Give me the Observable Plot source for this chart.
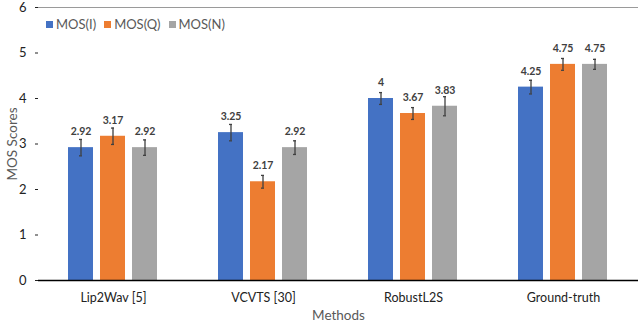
<!DOCTYPE html>
<html>
<head>
<meta charset="utf-8">
<script src="https://cdn.jsdelivr.net/npm/d3@7"></script>
<script src="https://cdn.jsdelivr.net/npm/@observablehq/plot@0.6"></script>
<style>
  html, body { margin: 0; padding: 0; background: #fff; }
  #wrap { position: relative; width: 640px; height: 323px; font-family: Lato, "Noto Sans", sans-serif; }
  #legend { position: absolute; left: 46px; top: 16px; display: flex; gap: 8px; font-size: 13px; color: #595959; }
  #legend span.item { display: flex; align-items: center; }
  #legend span.sw { display: inline-block; width: 7px; height: 7px; margin-right: 3px; }
</style>
</head>
<body>
<div id="wrap"><div id="legend"></div></div>
<script>
const methods = ["Lip2Wav [5]", "VCVTS [30]", "RobustL2S", "Ground-truth"];
const seriesNames = ["MOS(I)", "MOS(Q)", "MOS(N)"];
const seriesColors = ["#4472C4", "#ED7D31", "#A5A5A5"];
const mosI = [2.92, 3.25, 4, 4.25];
const mosQ = [3.17, 2.17, 3.67, 4.75];
const mosN = [2.92, 2.92, 3.83, 4.75];
const errI = [0.18, 0.18, 0.13, 0.15];
const errQ = [0.18, 0.14, 0.13, 0.13];
const errN = [0.17, 0.15, 0.21, 0.11];
const yTicks = [0, 1, 2, 3, 4, 5, 6];

const values = [mosI, mosQ, mosN];
const errs = [errI, errQ, errN];
const data = [];
methods.forEach((m, i) => {
  seriesNames.forEach((s, j) => {
    data.push({method: m, series: s, value: values[j][i], err: errs[j][i]});
  });
});

const chart = Plot.plot({
  width: 640,
  height: 323,
  marginTop: 7,
  marginBottom: 43,
  marginLeft: 38,
  marginRight: 2,
  style: {fontFamily: "Lato, 'Noto Sans', sans-serif", background: "#fff"},
  fx: {domain: methods, padding: 0},
  x: {domain: seriesNames, paddingInner: 0.21, paddingOuter: 0.88, axis: null},
  y: {domain: [0, 6]},
  color: {domain: seriesNames, range: seriesColors},
  marks: [
    Plot.ruleY([6], {stroke: "#9a9a9a"}),
    Plot.barY(data, {fx: "method", x: "series", y: "value", fill: "series"}),
    Plot.ruleX(data, {fx: "method", x: "series", y1: d => d.value - d.err, y2: d => d.value + d.err, stroke: "#404040", strokeWidth: 1.3}),
    Plot.tickY(data, {fx: "method", x: "series", y: d => d.value - d.err, stroke: "#404040", strokeWidth: 1.3, insetLeft: 11, insetRight: 11}),
    Plot.tickY(data, {fx: "method", x: "series", y: d => d.value + d.err, stroke: "#404040", strokeWidth: 1.3, insetLeft: 11, insetRight: 11}),
    Plot.text(data, {fx: "method", x: "series", y: "value", text: d => String(d.value), dy: -16, fontWeight: "bold", fontSize: 10.5, fill: "#404040"}),
    Plot.ruleY([0], {stroke: "#000", strokeWidth: 1.3}),
    Plot.axisY({ticks: yTicks, tickFormat: d => String(d), tickSize: 3, tickPadding: 9, fontSize: 13, color: "#222", line: true, label: null}),
    Plot.axisY({ticks: [], label: "MOS Scores", labelArrow: "none", labelAnchor: "center", labelOffset: 31, fontSize: 13.5, color: "#595959"}),
    Plot.axisY({anchor: "right", ticks: yTicks, tickSize: 0, tickFormat: () => "", line: true, stroke: "#9a9a9a", label: null}),
    Plot.axisFx({anchor: "bottom", tickSize: 0, tickPadding: 13, fontSize: 12.5, color: "#222", label: null}),
    Plot.axisFx({anchor: "bottom", ticks: [], label: "Methods", labelArrow: "none", labelAnchor: "center", labelOffset: 39, fontSize: 13.5, color: "#595959"})
  ]
});

const wrap = document.getElementById("wrap");
wrap.appendChild(chart);
chart.style.position = "absolute";
chart.style.left = "0";
chart.style.top = "0";

const legend = document.getElementById("legend");
seriesNames.forEach((s, i) => {
  const item = document.createElement("span");
  item.className = "item";
  const sw = document.createElement("span");
  sw.className = "sw";
  sw.style.background = seriesColors[i];
  item.appendChild(sw);
  item.appendChild(document.createTextNode(s));
  legend.appendChild(item);
});
wrap.appendChild(legend);
</script>
</body>
</html>
